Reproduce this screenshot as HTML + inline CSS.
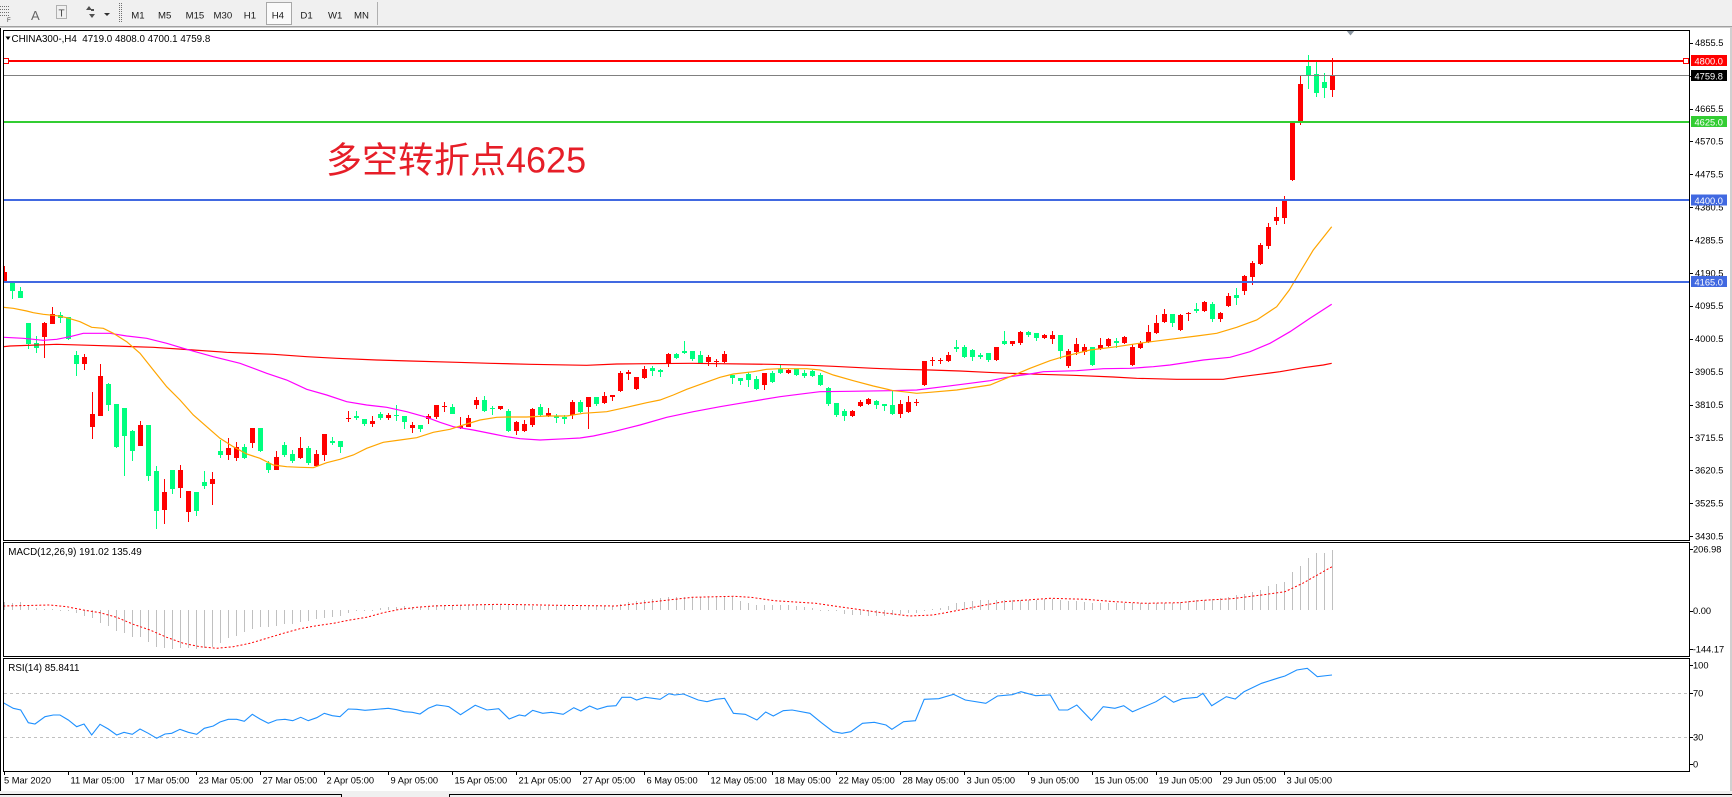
<!DOCTYPE html>
<html><head><meta charset="utf-8"><title>CHINA300 H4</title>
<style>
html,body{margin:0;padding:0;background:#fff;width:1732px;height:797px;overflow:hidden}
svg{display:block}
text{font-family:"Liberation Sans",Arial,sans-serif;fill:#000}
.ax{font-size:9.3px}
.tb{font-size:9.6px;fill:#1a1a1a}
.wl{font-size:9.3px;fill:#fff}
</style></head><body>
<svg id="c" xmlns="http://www.w3.org/2000/svg" width="1732" height="797" viewBox="0 0 1732 797">
<defs>
<clipPath id="cm"><rect x="4" y="31" width="1685" height="509"/></clipPath>
<clipPath id="cd"><rect x="4" y="543" width="1685" height="113"/></clipPath>
<clipPath id="cr"><rect x="4" y="659" width="1685" height="112"/></clipPath>
</defs>
<!-- toolbar -->
<rect x="0" y="0" width="1732" height="26" fill="#f0f0f0"/>
<rect x="0" y="26" width="1732" height="1.5" fill="#a0a0a0"/>
<g stroke="#707070" stroke-width="1" stroke-dasharray="1,1" fill="none" shape-rendering="crispEdges">
<line x1="0" y1="6.5" x2="10" y2="6.5"/><line x1="0" y1="9.5" x2="10" y2="9.5"/><line x1="0" y1="12.5" x2="10" y2="12.5"/><line x1="0" y1="15.5" x2="10" y2="15.5"/>
<rect x="56.5" y="5.5" width="10" height="13"/>
<line x1="119.5" y1="3" x2="119.5" y2="23"/><line x1="121.5" y1="3" x2="121.5" y2="23"/>
</g>
<text x="7" y="22" style="font-size:6px;fill:#404040">F</text>
<text x="31" y="20" style="font-size:13px;fill:#666">A</text>
<text x="58.5" y="16.5" style="font-size:10px;fill:#404040">T</text>
<path d="M86 10 l3 -4 l3 4 z M89 14 l3 4 l3 -4 z M91 9 h3 v2 h-3z" fill="#505050"/>
<polygon points="104,13 110,13 107,16" fill="#303030"/>
<rect x="266.5" y="2.5" width="25" height="22" fill="#fafafa" stroke="#a8a8a8"/>
<line x1="377.5" y1="2" x2="377.5" y2="25" stroke="#b0b0b0"/>
<text class="tb" x="131.3" y="18.5">M1</text>
<text class="tb" x="158" y="18.5">M5</text>
<text class="tb" x="185.6" y="18.5">M15</text>
<text class="tb" x="213.5" y="18.5">M30</text>
<text class="tb" x="243.8" y="18.5">H1</text>
<text class="tb" x="271.7" y="18.5">H4</text>
<text class="tb" x="300.4" y="18.5">D1</text>
<text class="tb" x="328" y="18.5">W1</text>
<text class="tb" x="354" y="18.5">MN</text>

<!-- window -->
<rect x="0" y="27.5" width="1730" height="764" fill="#fff"/>
<rect x="1730" y="27" width="2" height="770" fill="#d0d0d0"/>
<line x1="0.5" y1="28" x2="0.5" y2="791" stroke="#000" shape-rendering="crispEdges"/>
<!-- bottom strip -->
<rect x="0" y="791" width="1732" height="6" fill="#f0f0f0"/>
<g stroke="#000" shape-rendering="crispEdges">
<line x1="0" y1="794.5" x2="341" y2="794.5"/>
<line x1="449" y1="794.5" x2="1732" y2="794.5"/>
<line x1="341.5" y1="794" x2="341.5" y2="797"/>
<line x1="449.5" y1="794" x2="449.5" y2="797"/>
</g>

<!-- main panel content -->
<g id="gm" clip-path="url(#cm)"></g>
<g id="gl" clip-path="url(#cm)" shape-rendering="crispEdges">
<rect x="4" y="60" width="1685" height="2" fill="#ff0000"/>
<rect x="4" y="75" width="1685" height="1" fill="#808080"/>
<rect x="4" y="121" width="1685" height="2" fill="#32cd32"/>
<rect x="4" y="199" width="1685" height="2" fill="#4169e1"/>
<rect x="4" y="281" width="1685" height="2" fill="#4169e1"/>
<rect x="1683.5" y="58.5" width="5" height="5" fill="#fff" stroke="#ff0000"/>
<rect x="3.5" y="58.5" width="5" height="5" fill="#fff" stroke="#ff0000"/>
</g>
<polygon points="1346,30 1355,30 1350.5,35.5" fill="#8a96a2"/>
<text x="326" y="172.5" style="font-family:'Liberation Sans','Noto Sans CJK SC',sans-serif;font-size:36px;fill:#e61e28">多空转折点4625</text>

<!-- header -->
<polygon points="5.5,36.5 10.5,36.5 8,40" fill="#000"/>
<text x="11.5" y="41.8" xml:space="preserve" style="font-size:9.8px">CHINA300-,H4  4719.0 4808.0 4700.1 4759.8</text>

<!-- MACD / RSI content -->
<g id="gd" clip-path="url(#cd)"></g>
<g id="gr" clip-path="url(#cr)">
<line x1="4" y1="693.5" x2="1689" y2="693.5" stroke="#c0c0c0" stroke-dasharray="3,3"/>
<line x1="4" y1="737.5" x2="1689" y2="737.5" stroke="#c0c0c0" stroke-dasharray="3,3"/>
</g>
<text x="8.3" y="555.2" style="font-size:9.8px">MACD(12,26,9) 191.02 135.49</text>
<text x="8.3" y="670.8" style="font-size:9.8px">RSI(14) 85.8411</text>

<!-- panel frames -->
<g fill="none" stroke="#000" shape-rendering="crispEdges">
<rect x="3.5" y="30.5" width="1686" height="510"/>
<rect x="3.5" y="542.5" width="1686" height="114"/>
<rect x="3.5" y="658.5" width="1686" height="113"/>
</g>

<!-- price axis ticks -->
<g id="tk" stroke="#000" shape-rendering="crispEdges"></g>
<g class="ax">
<text x="1695" y="46">4855.5</text>
<text x="1695" y="78.9">4760.5</text>
<text x="1695" y="111.8">4665.5</text>
<text x="1695" y="144.7">4570.5</text>
<text x="1695" y="177.6">4475.5</text>
<text x="1695" y="210.5">4380.5</text>
<text x="1695" y="243.4">4285.5</text>
<text x="1695" y="276.3">4190.5</text>
<text x="1695" y="309.2">4095.5</text>
<text x="1695" y="342.1">4000.5</text>
<text x="1695" y="375">3905.5</text>
<text x="1695" y="407.9">3810.5</text>
<text x="1695" y="440.8">3715.5</text>
<text x="1695" y="473.7">3620.5</text>
<text x="1695" y="506.6">3525.5</text>
<text x="1695" y="539.5">3430.5</text>
<text x="1693" y="552.6">206.98</text>
<text x="1693" y="614">0.00</text>
<text x="1692.7" y="652.6">-144.17</text>
<text x="1693" y="668.6">100</text>
<text x="1693" y="696.6">70</text>
<text x="1693" y="740.6">30</text>
<text x="1693" y="767.3">0</text>
</g>
<!-- price label boxes -->
<g shape-rendering="crispEdges">
<rect x="1691" y="55" width="36" height="11" fill="#ff0000"/>
<rect x="1691" y="70" width="36" height="11" fill="#000"/>
<rect x="1691" y="116" width="36" height="11" fill="#32cd32"/>
<rect x="1691" y="194.5" width="36" height="11" fill="#4169e1"/>
<rect x="1691" y="276" width="36" height="11" fill="#4169e1"/>
</g>
<text class="wl" x="1694.5" y="64.3">4800.0</text>
<text class="wl" x="1694.5" y="79.3">4759.8</text>
<text class="wl" x="1694.5" y="125.3">4625.0</text>
<text class="wl" x="1694.5" y="203.8">4400.0</text>
<text class="wl" x="1694.5" y="285.3">4165.0</text>

<!-- x axis -->
<g id="xt" stroke="#000" shape-rendering="crispEdges"></g>
<g class="ax">
<text x="4" y="783.6">5 Mar 2020</text>
<text x="70.5" y="783.6">11 Mar 05:00</text>
<text x="134.5" y="783.6">17 Mar 05:00</text>
<text x="198.5" y="783.6">23 Mar 05:00</text>
<text x="262.5" y="783.6">27 Mar 05:00</text>
<text x="326.5" y="783.6">2 Apr 05:00</text>
<text x="390.5" y="783.6">9 Apr 05:00</text>
<text x="454.5" y="783.6">15 Apr 05:00</text>
<text x="518.5" y="783.6">21 Apr 05:00</text>
<text x="582.5" y="783.6">27 Apr 05:00</text>
<text x="646.5" y="783.6">6 May 05:00</text>
<text x="710.5" y="783.6">12 May 05:00</text>
<text x="774.5" y="783.6">18 May 05:00</text>
<text x="838.5" y="783.6">22 May 05:00</text>
<text x="902.5" y="783.6">28 May 05:00</text>
<text x="966.5" y="783.6">3 Jun 05:00</text>
<text x="1030.5" y="783.6">9 Jun 05:00</text>
<text x="1094.5" y="783.6">15 Jun 05:00</text>
<text x="1158.5" y="783.6">19 Jun 05:00</text>
<text x="1222.5" y="783.6">29 Jun 05:00</text>
<text x="1286.5" y="783.6">3 Jul 05:00</text>
</g>
</svg>
<script>
(function(){
var NS="http://www.w3.org/2000/svg";
function add(tag,a,p){var e=document.createElementNS(NS,tag);for(var k in a)e.setAttribute(k,a[k]);p.appendChild(e);return e;}
function pts(P){return P.map(function(p){return p[0]+","+p[1];}).join(" ");}
function interp(P,x){if(x<=P[0][0])return P[0][1];for(var k=1;k<P.length;k++){if(x<=P[k][0]){var a=P[k-1],b=P[k];return a[1]+(b[1]-a[1])*(x-a[0])/(b[0]-a[0]);}}return P[P.length-1][1];}
var C=[
[1,266,272,282,283],[0,282,282.3,290.7,298.7],[0,287,291,297.7,298],[0,323,323,343.7,349.3],[0,336,343.3,347.7,352.7],
[1,321.7,322.7,336.7,357.7],[1,307,314.3,323.7,324],[0,311.7,315,317.7,322.7],[0,317,317.3,339.3,339.5],[0,351,355.3,363.7,375.7],
[1,354,357,363.7,369.7],[1,392,414,426.7,438.7],[1,364,376,415.7,416],[0,382.7,383.7,404.7,411],[0,404,404,447,447.7],
[0,408,408,435.7,475.7],[0,430,431,450.7,460.7],[1,421,425,445.7,446],[0,424.7,424.7,475.7,480.7],[0,466,471,510.7,528.7],
[1,479,492,509.7,523.7],[0,470,470,488.7,493.7],[1,465,470,487.7,497.7],[1,491,491,511.7,521.7],[0,492,492,510.7,515.7],
[0,471,482,485.7,489.3],[1,472,479,483.7,505],[0,440,451,454.7,457.7],[1,438,448,454.7,459.7],[1,442,447,457.7,460.7],
[0,444,447,457.7,458.7],[1,428,428,443,447.7],[0,428,428,451,452],[0,461,463,469.7,472.7],[1,451,457,469.7,470],
[0,442,445,455,457],[0,450,454,461,463],[1,437,448,458,459],[0,446,448,462.7,464.7],[1,450,454,466,467],
[1,434,434,454.7,460.7],[0,437,441,443,445],[0,441,441,447,452.7],[1,411,418,419,421.7],[0,411,415.7,417.7,419.7],
[0,419,419,423.7,425.7],[1,416,421,423.7,426.7],[0,412,414,417.7,419.7],[1,413,415,417.7,419.7],[0,405,414.7,416,420.7],
[0,416,416,421.7,428.7],[1,422,425,427.7,432.7],[0,425,425,429,431.7],[1,414,416,419,423.7],[1,405,405,417,418.7],
[1,402,406.3,407.3,412],[0,404,407,413.7,414],[1,417,426,428,428.5],[1,415,418,426.7,427],[1,397,400,405,408.7],
[0,396,400,411,412],[0,406,407.7,408.7,415],[1,406,406,409,410],[0,409,411,431,431.5],[1,421,422,431,435],
[1,420,424,431,431.5],[1,408,409,425,427],[0,404,407,415,417],[1,408,413,416,416.5],[0,414,416,418,423],
[0,415,417,419,424],[1,400,402,415,419],[0,400,402,412,413],[1,397,397,407,429],[0,397,397,404,406],
[1,392,396,403,403.5],[1,395,395,397,401],[1,371,373,391,391.5],[1,370,372,374,380],[1,377,377,389,390],
[1,366,369,378,378.5],[0,366,368,371,376],[0,369,370,372,377],[1,353,354,364,367],[0,353,354,358,359],
[0,341,351,353,353.5],[0,351,351,359,361],[0,351,355,363,363.5],[1,355,357,362,366],[1,359,361,362,367],
[1,351,354,362,362.5],[0,375,375,378,384],[0,378,378,381,385],[0,372,374,380,387],[0,376,379,389,389.5],
[1,373,373,385,390],[0,371,373,382,383],[0,365,369,373,374],[1,369,370,373,373.5],[0,369,369,375,376],
[0,370,373,376,378],[0,370,371,376,376.5],[0,373,375,385,386],[0,387,388,404,406],[0,403,403,415,417],
[0,409,411,416,421],[1,410,411,416,417],[1,400,402,406,407],[1,398,399,404,404.5],[0,400,401,405,409],
[0,404,404,406,411],[0,391,405,414,415],[1,400,404,414,418],[1,396,402,412,413],[1,399,402,403,406],
[1,361,361,385,385.5],[1,357,360,361,366],[1,358,360,361,364],[1,352,355,361,362],[0,340,347,349,352],
[0,345,347,357,358],[0,349,350,357,361],[0,353,355,357,359],[0,353,353,360,362],[1,347,347,360,360.5],
[0,331,341,344,345],[1,341,341,344,346],[1,331,332,343,345],[0,331,332,335,337],[0,333,333,338,341],
[1,334,335,338,339],[1,331,335,339,344],[0,335,335,351,359],[1,349,351,366,368],[1,338,344,352,355],
[1,344,347,352,355],[0,347,347,365,366],[1,338,345,349,349.5],[1,338,339,346,346.5],[0,338,341,343,348],
[1,336,337,343,343.5],[1,344,347,365,365.5],[1,341,343,348,349],[1,325,332,342,342.5],[1,315,323,333,333.5],
[1,309,314,322,323],[0,314,314,323,327],[1,314,315,330,331],[1,312,313,314,321],[0,303,309,311,313],
[1,301,302,311,312],[0,302,304,319,322],[1,312,313,319,322],[1,293,296,306,306.5],[0,288,295,298,305],
[1,275,276,291,295],[1,261,263,277,285],[1,243,245,264,265],[1,223,227,246,249],[1,207,217,221,225],
[1,196,201,218,224],[1,123,123,180,180.5],[1,75,84,121,125],[0,55,66,75,89],[0,62,74,93,97],
[0,73,82,88,98],[1,58,75,90,97]
];
var OR=[[3.3,307.3],[13.3,308.3],[26.7,311],[33.3,312.7],[43.3,314.3],[56.7,315.7],[66.7,317.7],[80,321.7],[91.7,327.3],[103.3,328.3],[113.3,333.3],[126.7,341.7],[140,353.3],[153.3,370],[166.7,386.7],[180,400],[193.3,415],[206.7,426.7],[220,438.3],[233.3,446.7],[246.7,454],[260,458.3],[273.3,465],[286.7,466.7],[300,467.3],[313.3,467.7],[326.7,462.7],[340,459.3],[353.3,455],[366.7,448.3],[383.3,442.3],[400,440],[416.7,437.7],[433.3,432.3],[450,429.3],[460,426],[480,420],[496.7,417.3],[506.7,417],[526.7,417],[546.7,416],[566.7,416],[583.3,413.3],[606.7,411.7],[626.7,407.3],[646.7,402.7],[660,400],[673.3,395],[686.7,389.3],[703.3,383.3],[720,377.3],[733.3,374],[753.3,371.7],[766.7,369.3],[780,368.7],[806.7,368.7],[820,370],[833.3,375],[853.3,380.7],[873.3,386],[893.3,390.7],[903.3,391.7],[916.7,393.3],[930,392.3],[956.7,390],[990,385],[1010,376.7],[1030,368.3],[1050,360.7],[1063.3,356.7],[1090,350],[1116.7,346.7],[1143.3,342.7],[1170,339.3],[1196.7,336],[1216.7,333.3],[1236.7,327.3],[1256.7,320],[1276.7,306.7],[1289.3,290],[1300,272],[1313.3,250],[1331.7,226.7]];
var MG=[[3.3,337.3],[23.3,338.3],[33.3,339.3],[43.3,340.3],[56.7,339.3],[70,336.7],[83.3,333.3],[110,333.3],[126.7,336],[146.7,338.3],[166.7,343.3],[186.7,349.3],[213.3,356.7],[240,363.3],[266.7,373.3],[286.7,380],[306.7,389.3],[326.7,395],[346.7,401.7],[366.7,405],[386.7,407.3],[406.7,411.7],[426.7,417.3],[440,422.3],[453.3,426.7],[473.3,430],[493.3,434],[506.7,436.7],[520,438.7],[540,440],[566.7,438.7],[580,438],[593.3,436],[613.3,431.7],[640,425],[666.7,417.3],[693.3,411.7],[720,406.7],[740,403.3],[760,400],[780,396.7],[806.7,393.3],[820,391.7],[850,391.3],[890,390.7],[916.7,390],[943.3,386.7],[970,383.3],[990,380.7],[1010,376.7],[1030,374],[1043.3,371.7],[1076.7,370.7],[1103.3,368.7],[1130,368.3],[1153.3,366.7],[1170,365],[1203.3,360],[1230,357.3],[1250,351.7],[1270,343.3],[1290,331.7],[1310,318.3],[1331.7,304.3]];
var RD=[[3.3,346.7],[10,346],[56.7,344.3],[90,345.3],[153.3,347.3],[193.3,350],[226.7,352.3],[273.3,354.3],[306.7,356.7],[336.7,358.3],[376.7,360],[410,361],[456.7,362.3],[490,363.3],[530,364.3],[586.7,365.3],[616.7,364],[690,363.3],[770,364.3],[810,365.3],[833.3,366.3],[873.3,368.3],[900,369.3],[930,370],[960,371],[986.7,372.3],[1010,373.3],[1040,374.3],[1073.3,375.3],[1113.3,377],[1136.7,378.3],[1176.7,379.3],[1223.3,379.3],[1233.3,377.7],[1256.7,374.7],[1280,371.7],[1303.3,367.7],[1323.3,365],[1331.7,363.3]];
var H=[[4.7,601.7],[12.7,602.7],[20.7,602],[28.7,605],[36.7,608.3],[44.7,609],[52.7,609.5],[60.7,609.8],[68.7,611],[76.7,613.3],[84.7,616],[92.7,618.3],[100.7,622.7],[108.7,626],[116.7,630.7],[124.7,633.3],[132.7,637.3],[140.7,637.3],[148.7,641.7],[156.7,647.3],[164.7,648.3],[172.7,649.3],[180.7,648.3],[188.7,648.3],[196.7,649.3],[204.7,648.3],[212.7,646.7],[220.7,643.3],[228.7,638.3],[236.7,636],[244.7,631.7],[252.7,629.3],[260.7,627.3],[268.7,626.7],[276.7,626],[284.7,624.3],[292.7,624.3],[300.7,621.7],[308.7,620.7],[316.7,619.3],[324.7,618.3],[332.7,616.7],[340.7,616],[348.7,613.3],[356.7,611],[364.7,610.5],[372.7,610],[380.7,608.3],[388.7,607.3],[396.7,606.7],[404.7,606],[412.7,607.3],[420.7,607.3],[428.7,606],[436.7,605],[444.7,605],[452,604.5],[499,605],[557,606],[616,606],[622,603.3],[645,600],[675,596.7],[733,596.7],[739,601],[757,605],[792,605.5],[804,606.7],[821,610],[839,611],[845,614],[870,616],[886,615.5],[904,613.3],[915,613],[927,610],[945,606.7],[956,603.3],[980,600],[1027,600],[1050,599.3],[1074,601],[1097,603.3],[1174,603.3],[1191,601],[1220,598.3],[1238,595],[1256,591.7],[1267,586.7],[1285,581.7],[1292,572.7],[1300.3,566.7],[1308.3,558.3],[1316.3,553.3],[1324.3,552.7],[1332.3,550]];
var SG=[[3.3,606],[50,605],[66.7,606.7],[83.3,610],[100,612.7],[116.7,617.3],[133.3,624.3],[150,630],[166.7,637.3],[183.3,643.3],[200,646.7],[216.7,648.3],[233.3,646.7],[250,643.3],[266.7,638.3],[283.3,633.3],[300,628.7],[316.7,625.7],[333.3,623.3],[350,620],[366.7,617.3],[383.3,612.7],[400,609.3],[416.7,607.3],[433.3,606],[450,605.5],[498.7,604.3],[557.4,605.3],[616,606],[639.5,603.3],[674.7,599.3],[692.3,597.3],[733.4,596.3],[751,597.3],[774.5,600.7],[815.6,603.3],[839,606.7],[874.3,611.7],[909.5,616],[933,615],[956.4,610.7],[980,606],[1003.4,601.7],[1026.8,600],[1050.3,598.3],[1085.5,599.3],[1114.9,601.7],[1144.3,603.3],[1179.5,602.7],[1202.9,600.3],[1232.2,598.7],[1261.6,595],[1285,591.7],[1302.7,583.3],[1320.3,573.3],[1332,566.7]];
var RS=[[3.3,702.7],[13.3,708.3],[20.7,710],[28.3,722.7],[35,724],[45,716.7],[53.3,715],[60,715],[68.3,720],[76.7,726.7],[84,724],[91.7,735],[100,724.3],[108.3,729],[116.7,735],[124,732.3],[132.3,734.3],[140,729],[148.3,733.3],[156.7,738.3],[165,734],[171.7,733.3],[180,729.3],[188.3,732.3],[196.7,734.3],[204.3,728.3],[213.3,726],[220,722],[228.3,719.3],[236.7,719.3],[244.3,721.3],[252.3,714.3],[260,719],[268.3,723.3],[276.7,720],[285,719.3],[292.7,720.7],[300.7,717.3],[308.3,720.7],[316.7,717.7],[324.3,713.3],[332.3,715.7],[340,716.7],[348.3,709],[356.7,709.3],[365,710.3],[372.7,709.7],[380,709],[388.3,708.3],[396.7,709.7],[404.3,711.7],[412.3,712.3],[420,714],[428.3,708.3],[436.7,705],[445,706],[448.8,706.7],[460.5,714.7],[475.2,705.3],[487,710],[498.7,708.7],[509.2,719],[519.2,715],[525.1,716],[532.7,710.3],[542.7,713.3],[551.5,712.3],[563.2,714.3],[573.8,707.7],[580.8,711],[589.6,706],[597.3,709.3],[607.3,706.3],[616,705.7],[621.9,697.3],[630.7,697.3],[636.6,700],[645.4,697.3],[660.1,699.3],[668.9,693.7],[674.7,695],[683.5,694],[698.2,700],[707,701.7],[715.8,699.3],[724.6,698.3],[733.4,713.3],[745.2,714.3],[756.9,720],[765.7,712],[773.3,716],[783.3,710.7],[792.1,710],[809.9,713.3],[821.4,722.7],[833.2,731.7],[842,733.3],[850.8,731.7],[862.5,723.3],[874.3,722.3],[886,725],[891.9,729.3],[903.6,721.7],[915.4,720.7],[924.2,699.3],[938.8,698.7],[953.5,694.3],[965.3,700],[985.8,703.3],[997.5,696],[1012.2,694.7],[1021,691.7],[1035.7,695.7],[1050.3,695],[1059.1,710],[1067.8,710],[1076.8,705],[1091.4,720.3],[1103.2,706.7],[1114.9,708.3],[1123.7,705.7],[1132.5,711.7],[1144.3,706.7],[1156,701.7],[1164.8,696],[1173.6,702.3],[1182.4,698.7],[1197.1,697.3],[1202.9,693.3],[1211.7,705.7],[1226.3,696.7],[1235.2,699],[1244,691.7],[1261.6,683.3],[1279.2,677.7],[1285,676],[1296.8,670],[1307.3,668.3],[1317.3,676.7],[1332,675]];

var gm=document.getElementById("gm");
var r="",g="";
for(var i=0;i<C.length;i++){var c=C[i],x=4+8*i,hi=Math.round(c[1]),t=Math.round(c[2]),b=Math.round(c[3]),lo=Math.round(c[4]);
 if(b<=t)b=t+1;if(lo<b)lo=b;if(hi>t)hi=t;
 var d="M"+x+" "+hi+"h1V"+lo+"h-1z M"+(x-2)+" "+t+"h5V"+b+"h-5z ";
 if(c[0])r+=d;else g+=d;}
add("path",{d:g,fill:"#00ff7f","shape-rendering":"crispEdges"},gm);
add("path",{d:r,fill:"#ff0000","shape-rendering":"crispEdges"},gm);
add("polyline",{points:pts(RD),fill:"none",stroke:"#ff0000","stroke-width":"1.2"},gm);
add("polyline",{points:pts(MG),fill:"none",stroke:"#ff00ff","stroke-width":"1.2"},gm);
add("polyline",{points:pts(OR),fill:"none",stroke:"#ffa500","stroke-width":"1.2"},gm);
/* keep level lines on top */
var gl=document.getElementById("gl");gl.parentNode.appendChild(gl);

var gd=document.getElementById("gd");var hp="";
for(var i=0;i<C.length;i++){var x=4+8*i,y=Math.round(interp(H,x+0.5)),z=610;var a=Math.min(y,z),b=Math.max(y,z);if(b-a<1)b=a+1;hp+="M"+x+" "+a+"h1V"+b+"h-1z ";}
add("path",{d:hp,fill:"#c0c0c0","shape-rendering":"crispEdges"},gd);
add("polyline",{points:pts(SG),fill:"none",stroke:"#ff0000","stroke-width":"1","stroke-dasharray":"2,2"},gd);

var gr=document.getElementById("gr");
add("polyline",{points:pts(RS),fill:"none",stroke:"#1e90ff","stroke-width":"1.1"},gr);

var tk=document.getElementById("tk");
var ys=[];for(var k=0;k<16;k++)ys.push(42.7+k*32.9);
ys=ys.concat([549.3,610.7,649.3,665.3,693.3,737.3,764]);
ys.forEach(function(y){var yy=Math.round(y)+0.5;add("line",{x1:1689,y1:yy,x2:1693,y2:yy},tk);});
var xt=document.getElementById("xt");
for(var k=0;k<21;k++){var xx=4.5+64*k;add("line",{x1:xx,y1:771,x2:xx,y2:775},xt);}
})();
</script>
</body></html>
